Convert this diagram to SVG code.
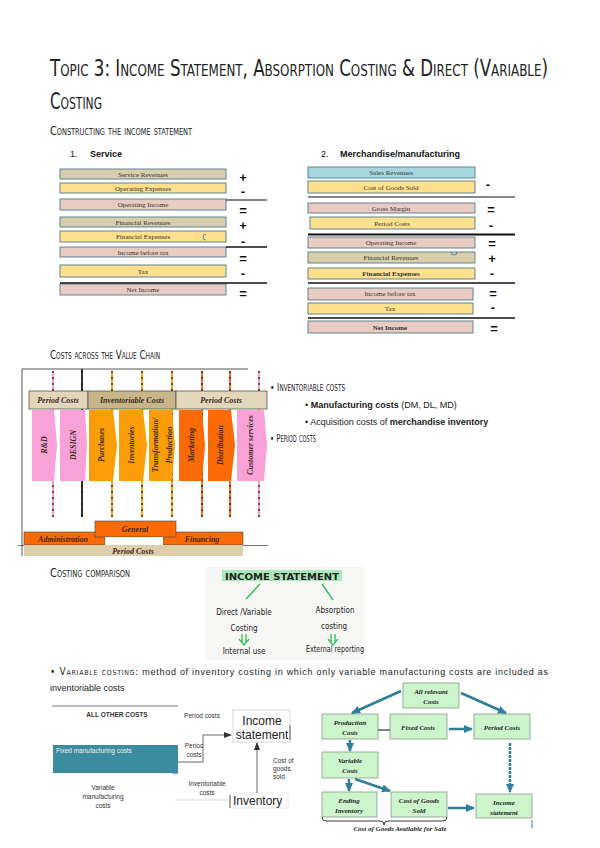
<svg xmlns="http://www.w3.org/2000/svg" width="600" height="848" viewBox="0 0 600 848">
<defs>
<style>
.sc{font-family:'Liberation Sans Narrow','DejaVu Sans Condensed',sans-serif;font-variant:small-caps;fill:#222}
.row{stroke:#5f8590;stroke-width:1}
.tan{fill:#d8cfab}.yel{fill:#ffe08c}.pnk{fill:#e9cbc3}.blu{fill:#a8d6e0}
.rt{font-family:'Liberation Serif',serif;font-size:7px;fill:#333;text-anchor:middle}
.sg{font-family:'Liberation Sans',sans-serif;font-size:13px;font-weight:bold;fill:#111;text-anchor:middle}
.hd{font-family:'Liberation Sans',sans-serif;font-size:9px;fill:#111}
.vc{font-family:'Liberation Serif',serif;font-style:italic;font-weight:bold;font-size:8px;fill:#3a2a1a;text-anchor:middle}
.body{font-family:'Liberation Sans','DejaVu Sans',sans-serif;font-size:9px;fill:#222}
.hw{font-family:'DejaVu Sans Condensed','DejaVu Sans',sans-serif;font-size:8px;fill:#222;text-anchor:middle}
.gb{fill:#ccf5cc;stroke:#8a9a8a;stroke-width:0.8}
.ft{font-family:'Liberation Serif',serif;font-style:italic;font-weight:bold;font-size:7px;fill:#222;text-anchor:middle}
.ar{stroke:#2f7f98;stroke-width:2.5;fill:none}
.sm{font-family:'Liberation Sans',sans-serif;font-size:6.5px;fill:#333;text-anchor:middle}
.st{text-anchor:start}
</style>
<marker id="ta" markerWidth="9" markerHeight="9" refX="8" refY="4.5" orient="auto" markerUnits="userSpaceOnUse"><path d="M0,0.5 L9,4.5 L0,8.5 z" fill="#2f7f98"/></marker>
<marker id="ka" markerWidth="8" markerHeight="8" refX="7" refY="4" orient="auto" markerUnits="userSpaceOnUse"><path d="M0,1 L8,4 L0,7 z" fill="#333"/></marker>
</defs>
<rect width="600" height="848" fill="#fff"/>

<g id="titles">
<text class="sc" transform="translate(50,76) scale(1,1.2)" x="0" y="0" font-size="19" textLength="498" lengthAdjust="spacingAndGlyphs">Topic 3: Income Statement, Absorption Costing &amp; Direct (Variable)</text>
<text class="sc" transform="translate(50,109) scale(1,1.2)" x="0" y="0" font-size="19" textLength="52" lengthAdjust="spacingAndGlyphs">Costing</text>
<text class="sc" x="50" y="135" font-size="12" textLength="142" lengthAdjust="spacingAndGlyphs">Constructing the income statement</text>
<text class="sc" x="50" y="359" font-size="12" textLength="110" lengthAdjust="spacingAndGlyphs">Costs across the Value Chain</text>
<text class="sc" x="50" y="577" font-size="12" textLength="80" lengthAdjust="spacingAndGlyphs">Costing comparison</text>
</g>

<g id="service-table">
<text class="hd" x="70" y="157" font-family="Liberation Serif">1.</text>
<text class="hd" x="90" y="157" font-weight="bold">Service</text>
<rect class="row tan" x="60" y="169" width="166" height="10"/><text class="rt" x="143" y="177">Service Revenues</text>
<rect class="row yel" x="60" y="183" width="166" height="10"/><text class="rt" x="143" y="191">Operating Expenses</text>
<rect class="row pnk" x="60" y="199" width="166" height="11"/><text class="rt" x="143" y="207">Operating Income</text>
<rect class="row tan" x="60" y="217" width="166" height="10"/><text class="rt" x="143" y="225">Financial Revenues</text>
<rect class="row yel" x="60" y="231" width="166" height="11"/><text class="rt" x="143" y="239">Financial Expenses</text>
<path d="M206,234 a3,3 0 1 0 0,6" fill="none" stroke="#3a6fa0" stroke-width="0.8"/>
<rect class="row pnk" x="60" y="247" width="166" height="10"/><text class="rt" x="143" y="255">Income before tax</text>
<rect class="row yel" x="60" y="265" width="166" height="12"/><text class="rt" x="143" y="274">Tax</text>
<rect class="row pnk" x="60" y="284" width="166" height="11"/><text class="rt" x="143" y="292">Net Income</text>
<line x1="226" y1="200" x2="267" y2="200" stroke="#111" stroke-width="1"/>
<line x1="226" y1="247" x2="267" y2="247" stroke="#111" stroke-width="1.6"/>
<line x1="60" y1="283" x2="267" y2="283" stroke="#111" stroke-width="1.6"/>
<text class="sg" x="243" y="182" font-size="15">+</text>
<text class="sg" x="243" y="196">-</text>
<text class="sg" x="243" y="215" font-size="15">=</text>
<text class="sg" x="243" y="230" font-size="15">+</text>
<text class="sg" x="243" y="246">-</text>
<text class="sg" x="243" y="263" font-size="15">=</text>
<text class="sg" x="243" y="278">-</text>
<text class="sg" x="243" y="298" font-size="15">=</text>
</g>

<g id="merch-table">
<text class="hd" x="321" y="157" font-family="Liberation Serif">2.</text>
<text class="hd" x="340" y="157" font-weight="bold">Merchandise/manufacturing</text>
<rect class="row blu" x="308" y="167" width="167" height="11"/><text class="rt" x="391" y="175">Sales Revenues</text>
<rect class="row yel" x="308" y="181" width="167" height="12"/><text class="rt" x="391" y="190">Cost of Goods Sold</text>
<rect class="row pnk" x="308" y="203" width="167" height="10"/><text class="rt" x="391" y="211">Gross Margin</text>
<rect class="row yel" x="310" y="217" width="165" height="12"/><text class="rt" x="392" y="226">Period Costs</text>
<rect class="row pnk" x="308" y="237" width="167" height="11"/><text class="rt" x="391" y="245">Operating Income</text>
<rect class="row tan" x="308" y="252" width="167" height="11"/><text class="rt" x="391" y="260">Financial Revenues</text>
<path d="M451,252 a3,3 0 0 0 6,0" fill="none" stroke="#3a6fa0" stroke-width="0.8"/>
<rect class="row yel" x="308" y="268" width="167" height="11"/><text class="rt" x="391" y="276" font-weight="bold">Financial Expenses</text>
<rect class="row pnk" x="308" y="288" width="165" height="12"/><text class="rt" x="390" y="296">Income before tax</text>
<rect class="row yel" x="308" y="303" width="165" height="11"/><text class="rt" x="390" y="311">Tax</text>
<rect class="row pnk" x="308" y="321" width="165" height="12"/><text class="rt" x="390" y="330" font-weight="bold">Net Income</text>
<line x1="308" y1="197" x2="515" y2="197" stroke="#111" stroke-width="1"/>
<line x1="308" y1="234.5" x2="515" y2="234.5" stroke="#111" stroke-width="2"/>
<line x1="308" y1="283" x2="515" y2="283" stroke="#111" stroke-width="1.3"/>
<line x1="308" y1="318" x2="515" y2="318" stroke="#111" stroke-width="1.3"/>
<text class="sg" x="488" y="189">-</text>
<text class="sg" x="491" y="214" font-size="15">=</text>
<text class="sg" x="491" y="230">-</text>
<text class="sg" x="492" y="248" font-size="15">=</text>
<text class="sg" x="492" y="263" font-size="15">+</text>
<text class="sg" x="492" y="278">-</text>
<text class="sg" x="493" y="298" font-size="15">=</text>
<text class="sg" x="493" y="312">-</text>
<text class="sg" x="494" y="333" font-size="15">=</text>
</g>

<g id="value-chain">
<line x1="22" y1="369" x2="248" y2="369" stroke="#555" stroke-width="1"/>
<line x1="22" y1="369" x2="22" y2="556" stroke="#555" stroke-width="1"/>
<line x1="18" y1="545.5" x2="268" y2="545.5" stroke="#555" stroke-width="0.8"/>
<g stroke-width="2">
<line x1="53" y1="371" x2="53" y2="517" stroke="#f59cd0"/>
<line x1="82" y1="369" x2="82" y2="517" stroke="#333"/>
<line x1="112" y1="371" x2="112" y2="517" stroke="#f7a21a"/>
<line x1="142" y1="371" x2="142" y2="517" stroke="#f7a21a"/>
<line x1="172" y1="371" x2="172" y2="517" stroke="#f7a21a"/>
<line x1="202" y1="371" x2="202" y2="517" stroke="#f27020"/>
<line x1="230" y1="371" x2="230" y2="517" stroke="#f27020"/>
<line x1="259" y1="371" x2="259" y2="517" stroke="#f59cd0"/>
</g>
<g stroke="#111" stroke-width="1.2" stroke-dasharray="2,4">
<line x1="53" y1="371" x2="53" y2="517"/><line x1="82" y1="371" x2="82" y2="517"/>
<line x1="112" y1="371" x2="112" y2="517"/><line x1="142" y1="371" x2="142" y2="517"/>
<line x1="172" y1="371" x2="172" y2="517"/><line x1="202" y1="371" x2="202" y2="517"/>
<line x1="230" y1="371" x2="230" y2="517"/><line x1="259" y1="371" x2="259" y2="517"/>
</g>
<rect x="29" y="391" width="59" height="18" fill="#e2d7bb" stroke="#555" stroke-width="0.8"/>
<rect x="88" y="391" width="88" height="18" fill="#c8b68a" stroke="#555" stroke-width="0.8"/>
<rect x="176" y="391" width="91" height="18" fill="#e2d7bb" stroke="#555" stroke-width="0.8"/>
<text class="vc" x="58" y="403">Period Costs</text>
<text class="vc" x="132" y="403">Inventoriable Costs</text>
<text class="vc" x="221" y="403">Period Costs</text>
<path d="M32,410 H54 L57,445 L54,481 H32 Z" fill="#f8a2d8"/>
<path d="M60,410 H85 L87,445 L85,481 H60 Z" fill="#f8a2d8"/>
<path d="M89,410 H113 L117,445 L113,481 H89 Z" fill="#fb9d08"/>
<path d="M119,410 H143 L147,445 L143,481 H119 Z" fill="#fb9d08"/>
<path d="M149,410 H172 L175,445 L172,481 H149 Z" fill="#fb9d08"/>
<path d="M179,410 H202 L205,445 L202,481 H179 Z" fill="#fa6a06"/>
<path d="M208,410 H231 L235,445 L231,481 H208 Z" fill="#fa6a06"/>
<path d="M237,410 H264 L267,445 L264,481 H237 Z" fill="#f8a2d8"/>
<text class="vc" transform="translate(47,445) rotate(-90)">R&amp;D</text>
<text class="vc" transform="translate(76,445) rotate(-90)">DESIGN</text>
<text class="vc" transform="translate(104,445) rotate(-90)">Purchases</text>
<text class="vc" transform="translate(134,445) rotate(-90)">Inventories</text>
<text class="vc" transform="translate(158,445) rotate(-90)">Transformation/</text>
<text class="vc" transform="translate(172,445) rotate(-90)">Production</text>
<text class="vc" transform="translate(194,445) rotate(-90)">Marketing</text>
<text class="vc" transform="translate(223,445) rotate(-90)">Distribution</text>
<text class="vc" transform="translate(253,445) rotate(-90)">Customer services</text>
<rect x="24" y="532" width="81" height="13" fill="#fa6a06" stroke="#444" stroke-width="0.6"/>
<rect x="163" y="532" width="80" height="13" fill="#fa6a06" stroke="#444" stroke-width="0.6"/>
<rect x="95" y="521" width="81" height="16" fill="#fa6a06" stroke="#444" stroke-width="0.6"/>
<rect x="105" y="537" width="58" height="8" fill="#fff"/>
<rect x="24" y="545" width="219" height="11" fill="#dccfa9"/>
<text class="vc" x="135" y="532">General</text>
<text class="vc" x="63" y="542">Administration</text>
<text class="vc" x="202" y="542">Financing</text>
<text class="vc" x="133" y="554" font-size="9">Period Costs</text>
</g>

<g id="cost-bullets">
<text class="sc" x="270" y="391" font-size="11" textLength="75" lengthAdjust="spacingAndGlyphs">• Inventoriable costs</text>
<text class="body" x="305" y="408">• <tspan font-weight="bold">Manufacturing costs</tspan> (DM, DL, MD)</text>
<text class="body" x="305" y="425">• Acquisition costs of <tspan font-weight="bold">merchandise inventory</tspan></text>
<text class="sc" x="270" y="442" font-size="11" textLength="46" lengthAdjust="spacingAndGlyphs">• Period costs</text>
</g>

<g id="costing-comparison">
<rect x="205" y="567" width="160" height="93" fill="#f6f6f4"/>
<rect x="222" y="570" width="120" height="11" fill="#a9e8bb"/>
<text class="hw" x="282" y="580" font-size="10" font-weight="bold" textLength="114" lengthAdjust="spacingAndGlyphs">INCOME STATEMENT</text>
<line x1="260" y1="584" x2="246" y2="599" stroke="#2fc05a" stroke-width="1.5"/>
<line x1="322" y1="584" x2="333" y2="600" stroke="#2fc05a" stroke-width="1.5"/>
<text class="hw" x="244" y="615">Direct /Variable</text>
<text class="hw" x="244" y="631">Costing</text>
<text class="hw" x="335" y="613">Absorption</text>
<text class="hw" x="334" y="629">costing</text>
<path d="M242,634 V643 M246,634 V643 M239,639 L244,645 L249,639" stroke="#2fc05a" stroke-width="1.3" fill="none"/>
<path d="M331,634 V643 M335,634 V643 M328,639 L333,645 L338,639" stroke="#2fc05a" stroke-width="1.3" fill="none"/>
<text class="hw" x="244" y="654">Internal use</text>
<text class="hw st" x="306" y="652" textLength="58" lengthAdjust="spacingAndGlyphs">External reporting</text>
</g>

<g id="variable-costing-text">
<text class="body" x="50" y="675" textLength="498" lengthAdjust="spacing"><tspan class="sc" font-size="10">• Variable costing:</tspan> method of inventory costing in which only variable manufacturing costs are included as</text>
<text class="body" x="50" y="691">inventoriable costs</text>
</g>

<g id="variable-diagram">
<line x1="52" y1="706" x2="178" y2="706" stroke="#555" stroke-width="0.8"/>
<text class="sm" x="117" y="717" font-weight="bold" font-size="7">ALL OTHER COSTS</text>
<rect x="53" y="745" width="125" height="28" fill="#3a8c9e"/>
<text class="sm st" x="56" y="753" style="fill:#f2f2f2">Fixed  manufacturing costs</text>
<path d="M172,771 a3,3 0 1 0 6,0" fill="none" stroke="#3a7fb0" stroke-width="0.8"/>
<text class="sm" x="103" y="790">Variable</text>
<text class="sm" x="103" y="799">manufacturing</text>
<text class="sm" x="103" y="808">costs</text>
<text class="sm" x="202" y="718">Period costs</text>
<text class="sm" x="194" y="748">Perioc</text>
<text class="sm" x="194" y="757">costs</text>
<text class="sm" x="207" y="786">Inventoriable</text>
<text class="sm" x="207" y="795">costs</text>
<text class="sm st" x="273" y="763">Cost of</text>
<text class="sm st" x="273" y="771">goods</text>
<text class="sm st" x="273" y="779">sold</text>
<rect x="233" y="710" width="57" height="32" fill="#fff" stroke="#ccc" stroke-width="0.8"/>
<line x1="290" y1="725" x2="290" y2="740" stroke="#333" stroke-width="0.8"/>
<text x="262" y="725" font-family="'Liberation Sans',sans-serif" font-size="12" fill="#222" text-anchor="middle">Income</text>
<text x="262" y="739" font-family="'Liberation Sans',sans-serif" font-size="12" fill="#222" text-anchor="middle">statement</text>
<rect x="230" y="793" width="58" height="15" fill="#fff" stroke="#ddd" stroke-width="0.6"/>
<line x1="230" y1="795" x2="230" y2="808" stroke="#333" stroke-width="0.8"/>
<text x="233" y="805" font-family="'Liberation Sans',sans-serif" font-size="12" fill="#222">Inventory</text>
<line x1="175" y1="800" x2="229" y2="800" stroke="#ccc" stroke-width="0.8"/>
<polyline points="178,762 203,762 203,735 231,735" fill="none" stroke="#444" stroke-width="0.8" marker-end="url(#ka)"/>
<line x1="257" y1="793" x2="257" y2="743" stroke="#444" stroke-width="0.8" marker-end="url(#ka)"/>
</g>

<g id="flow-nodes">
<g id="n-all"><rect class="gb" x="403" y="683" width="56" height="25"/><text class="ft" x="431" y="694">All relevant</text><text class="ft" x="431" y="704">Costs</text></g>
<g id="n-prod"><rect class="gb" x="322" y="714" width="56" height="25"/><text class="ft" x="350" y="725">Production</text><text class="ft" x="350" y="735">Costs</text></g>
<g id="n-fixed"><rect class="gb" x="390" y="714" width="57" height="25"/><text class="ft" x="418" y="730">Fixed Costs</text></g>
<g id="n-period"><rect class="gb" x="474" y="714" width="56" height="25"/><text class="ft" x="502" y="730">Period Costs</text></g>
<g id="n-var"><rect class="gb" x="322" y="752" width="56" height="26"/><text class="ft" x="350" y="763">Variable</text><text class="ft" x="350" y="773">Costs</text></g>
<g id="n-end"><rect class="gb" x="322" y="792" width="55" height="25"/><text class="ft" x="349" y="803">Ending</text><text class="ft" x="349" y="813">Inventory</text></g>
<g id="n-cogs"><rect class="gb" x="391" y="792" width="56" height="25"/><text class="ft" x="419" y="803">Cost of Goods</text><text class="ft" x="419" y="813">Sold</text></g>
<g id="n-inc"><rect class="gb" x="476" y="794" width="56" height="24"/><text class="ft" x="504" y="805">Income</text><text class="ft" x="504" y="815">statement</text></g>
<path d="M322,817 q0,4 4,4 H380 q4,0 4,4 q0,-4 4,-4 H443 q4,0 4,-4" fill="none" stroke="#222" stroke-width="0.9"/>
<text class="ft" x="400" y="831">Cost of Goods Available for Sale</text>
</g>

<g id="connectors">
<line class="ar" x1="401" y1="691" x2="352" y2="713" marker-end="url(#ta)"/>
<line class="ar" x1="461" y1="693" x2="506" y2="713" marker-end="url(#ta)"/>
<line x1="378" y1="730" x2="390" y2="730" stroke="#333" stroke-width="1.2"/>
<line class="ar" x1="449" y1="729" x2="472" y2="729" stroke-width="1.6" marker-end="url(#ta)"/>
<line class="ar" x1="350" y1="740" x2="350" y2="751" stroke-width="1.6" marker-end="url(#ta)"/>
<line class="ar" x1="349" y1="779" x2="349" y2="791" stroke-width="1.6" marker-end="url(#ta)"/>
<line class="ar" x1="355" y1="779" x2="390" y2="791" stroke-width="1.8" marker-end="url(#ta)"/>
<line class="ar" x1="448" y1="808" x2="474" y2="808" marker-end="url(#ta)"/>
<line class="ar" x1="510" y1="743" x2="510" y2="792" stroke-dasharray="3,1" marker-end="url(#ta)"/>
<line x1="532" y1="820" x2="532" y2="828" stroke="#2f7f98" stroke-width="1"/>
</g>
</svg>
